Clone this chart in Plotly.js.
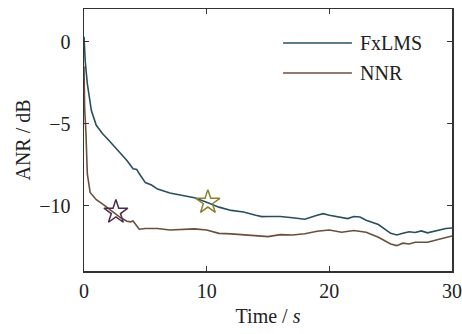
<!DOCTYPE html>
<html><head><meta charset="utf-8">
<script src="https://cdn.plot.ly/plotly-3.0.1.min.js"></script>
<style>html,body{margin:0;padding:0;background:#fff}</style>
</head><body><div id="chart" style="width:462px;height:334px"></div>
<script>
const timeFx = [0, 0.1, 0.27, 0.6, 1, 1.5, 2, 2.5, 3, 3.5, 4, 4.3, 4.5, 5, 5.5, 6, 7, 8, 9, 10, 11, 12, 13, 14, 14.5, 15, 16, 17, 18, 19, 19.5, 20, 21, 21.5, 22, 22.5, 23, 24, 25, 25.5, 26, 26.5, 27, 27.5, 28, 29, 29.5, 30];
const anrFx = [0.3, -1.2, -2.55, -4.2, -5.1, -5.6, -6.0, -6.4, -6.8, -7.25, -7.75, -7.8, -8.05, -8.6, -8.75, -9.0, -9.24, -9.4, -9.53, -9.8, -10.1, -10.3, -10.4, -10.6, -10.68, -10.67, -10.67, -10.75, -10.84, -10.6, -10.5, -10.6, -10.75, -10.8, -10.67, -10.7, -10.9, -11.16, -11.7, -11.8, -11.7, -11.6, -11.65, -11.55, -11.67, -11.5, -11.4, -11.37];
const timeNNR = [0, 0.05, 0.16, 0.27, 0.5, 1, 1.5, 2, 2.5, 3, 3.5, 3.8, 4, 4.3, 4.5, 5, 6, 7, 8, 9, 10, 11, 12, 13, 14, 15, 16, 17, 18, 19, 20, 21, 22, 23, 24, 25, 25.5, 26, 26.5, 27, 28, 29, 30];
const anrNNR = [-1.5, -4.0, -5.6, -8.06, -9.2, -9.65, -9.9, -10.2, -10.5, -10.75, -10.96, -11.0, -10.95, -11.3, -11.45, -11.4, -11.4, -11.5, -11.45, -11.43, -11.5, -11.7, -11.73, -11.78, -11.84, -11.9, -11.78, -11.8, -11.73, -11.57, -11.5, -11.63, -11.53, -11.63, -11.94, -12.35, -12.45, -12.3, -12.35, -12.24, -12.24, -12.04, -11.86];
const starT = [2.6, 10.1];
const starANR = [-10.4, -9.8];
const seriesNames = ['FxLMS', 'NNR'];
const xTicks = [0, 10, 20, 30];
const yTicks = [0, -5, -10];

const serif = "'Liberation Serif', 'Times New Roman', serif";
const cFx = '#2a4f5c', cNNR = '#6b4f3e';
const traces = [
  {x: timeFx, y: anrFx, mode: 'lines', line: {color: cFx, width: 1.6}, showlegend: false},
  {x: timeNNR, y: anrNNR, mode: 'lines', line: {color: cNNR, width: 1.6}, showlegend: false},
  {x: [starT[0]], y: [starANR[0]], mode: 'markers', marker: {symbol: 'star-open', size: 18, color: '#4d2d4d', line: {width: 1.5}}, showlegend: false},
  {x: [starT[1]], y: [starANR[1]], mode: 'markers', marker: {symbol: 'star-open', size: 18, color: '#8a8032', line: {width: 1.5}}, showlegend: false}
];
const axBase = {showgrid: false, zeroline: false, showline: true, mirror: 'ticks', linecolor: '#333', linewidth: 1.5,
  ticks: 'inside', ticklen: 5, tickwidth: 1.2, tickcolor: '#333', tickfont: {family: serif, size: 20, color: '#222'}};
const layout = {
  width: 462, height: 334, margin: {l: 84, r: 10, t: 9, b: 63}, paper_bgcolor: '#fff', plot_bgcolor: '#fff',
  xaxis: Object.assign({}, axBase, {range: [0, 30], tickvals: xTicks, ticklabelstandoff: 1, title: {text: 'Time / <i>s</i>', font: {family: serif, size: 20, color: '#222'}, standoff: 8}}),
  yaxis: Object.assign({}, axBase, {range: [-14, 2], tickvals: yTicks, ticklabelstandoff: 8, title: {text: 'ANR / dB', font: {family: serif, size: 20, color: '#222'}, standoff: 3}}),
  shapes: [
    {type: 'line', xref: 'paper', yref: 'paper', x0: 0.541, x1: 0.728, y0: 0.870, y1: 0.870, line: {color: cFx, width: 1.6}},
    {type: 'line', xref: 'paper', yref: 'paper', x0: 0.541, x1: 0.728, y0: 0.756, y1: 0.756, line: {color: cNNR, width: 1.6}}
  ],
  annotations: [
    {xref: 'paper', yref: 'paper', x: 0.745, y: 0.870, xanchor: 'left', yanchor: 'middle', text: seriesNames[0], showarrow: false, font: {family: serif, size: 20, color: '#222'}},
    {xref: 'paper', yref: 'paper', x: 0.745, y: 0.756, xanchor: 'left', yanchor: 'middle', text: seriesNames[1], showarrow: false, font: {family: serif, size: 20, color: '#222'}}
  ]
};
Plotly.newPlot('chart', traces, layout, {displayModeBar: false, staticPlot: true});
</script></body></html>
